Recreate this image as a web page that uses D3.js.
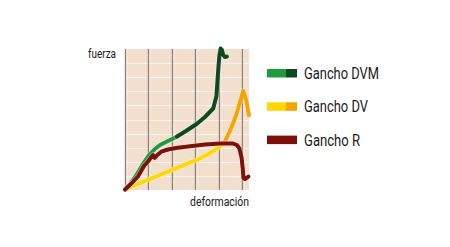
<!DOCTYPE html>
<html>
<head>
<meta charset="utf-8">
<script src="https://cdn.jsdelivr.net/npm/d3@7"></script>
<style>
  body { margin: 0; background: #fff; }
  text { font-family: "Roboto", "Liberation Sans", sans-serif; fill: #1a1a1a; }
</style>
</head>
<body>
<div id="chart"></div>
<script>
// values (x in grid columns, y in grid rows)
var dvmLight = [[0, 0], [0.255, 0.5], [0.511, 1.135], [0.766, 1.844], [1.034, 2.482], [1.277, 2.908], [1.489, 3.191], [1.83, 3.475], [2.2, 3.78]];
var dvmDark = [[2.2, 3.78], [2.596, 4.184], [3.051, 4.681], [3.404, 5.177], [3.757, 5.78], [3.894, 6.667], [3.97, 8.511], [4.021, 9.574], [4.072, 10.03], [4.128, 9.93], [4.183, 9.574], [4.255, 9.433], [4.34, 9.468]];
var dvYellow = [[0, 0], [0.553, 0.426], [1.119, 0.83], [1.83, 1.298], [2.681, 1.894], [3.051, 2.128], [3.477, 2.482], [3.83, 2.837], [4.213, 3.298]];
var dvOrange = [[4.213, 3.298], [4.468, 4.184], [4.723, 5.248], [5.034, 7.021], [5.17, 6.312], [5.28, 5.3]];
var ganchoR = [[0, 0.035], [0.255, 0.426], [0.553, 0.957], [0.809, 1.702], [0.979, 2.021], [1.191, 2.482], [1.268, 2.284], [1.374, 2.482], [1.545, 2.716], [1.83, 2.872], [2.17, 2.979], [2.681, 3.085], [3.404, 3.227], [4.043, 3.298], [4.596, 3.298], [4.766, 3.191], [4.872, 2.943], [4.966, 2.27], [5.021, 1.418], [5.043, 0.851], [5.106, 0.78], [5.255, 0.957]];

var legendLabels = ["Gancho DVM", "Gancho DV", "Gancho R"];
var legendWidths = [75, 64, 56];
var legendColors = [["#1f9a3f", "#0e4a21"], ["#ffd800", "#f7a400"], ["#7e100c", "#7e100c"]];

var margin = { top: 49, left: 125 },
    width = 124,
    height = 141;

var svg = d3.select("#chart")
    .append("svg")
    .attr("width", 450)
    .attr("height", 247);

var g = svg.append("g")
    .attr("transform", "translate(" + margin.left + "," + margin.top + ")");

var x = d3.scaleLinear().domain([0, 5.28]).range([0, width]);
var y = d3.scaleLinear().domain([0, 10]).range([height, 0]);

// background
g.append("rect")
    .attr("width", width)
    .attr("height", height)
    .attr("fill", "#f2dfce");

// horizontal white lines
g.append("g")
    .selectAll("line")
    .data(d3.range(1, 10))
    .enter()
    .append("line")
    .attr("x1", 0)
    .attr("x2", width)
    .attr("y1", function(d) { return Math.round(y(d)) + 0.5; })
    .attr("y2", function(d) { return Math.round(y(d)) + 0.5; })
    .attr("stroke", "#fbf3ec")
    .attr("stroke-width", 1);

// vertical grid lines
var vg = g.append("g")
    .selectAll("g")
    .data(d3.range(0, 6))
    .enter()
    .append("g");
vg.append("line")
    .attr("x1", function(d) { return Math.round(x(d)) + 0.5; })
    .attr("x2", function(d) { return Math.round(x(d)) + 0.5; })
    .attr("y1", 0)
    .attr("y2", height)
    .attr("stroke", "#8f8175")
    .attr("stroke-width", 1.4);
vg.append("line")
    .attr("x1", function(d) { return Math.round(x(d)) + 1.9; })
    .attr("x2", function(d) { return Math.round(x(d)) + 1.9; })
    .attr("y1", 0)
    .attr("y2", height)
    .attr("stroke", "#fbf3ec")
    .attr("stroke-width", 0.8);

var line = d3.line()
    .x(function(d) { return x(d[0]); })
    .y(function(d) { return y(d[1]); });

function drawLine(data, color) {
    g.append("path")
        .datum(data)
        .attr("d", line)
        .attr("fill", "none")
        .attr("stroke", "#fff")
        .attr("stroke-opacity", 0.45)
        .attr("stroke-width", 5.4)
        .attr("stroke-linejoin", "round")
        .attr("stroke-linecap", "round");
    g.append("path")
        .datum(data)
        .attr("d", line)
        .attr("fill", "none")
        .attr("stroke", color)
        .attr("stroke-width", 4)
        .attr("stroke-linejoin", "round")
        .attr("stroke-linecap", "round");
}

drawLine(dvYellow, legendColors[1][0]);
drawLine(dvOrange, legendColors[1][1]);
drawLine(dvmLight, legendColors[0][0]);
drawLine(dvmDark, legendColors[0][1]);
drawLine(ganchoR, legendColors[2][0]);

// axis labels
svg.append("text")
    .attr("x", 88)
    .attr("y", 58)
    .attr("textLength", 28)
    .attr("lengthAdjust", "spacingAndGlyphs")
    .style("font-size", "12.5px")
    .text("fuerza");

svg.append("text")
    .attr("x", 190)
    .attr("y", 206)
    .attr("textLength", 59)
    .attr("lengthAdjust", "spacingAndGlyphs")
    .style("font-size", "12.5px")
    .text("deformación");

// legend
var legend = svg.append("g")
    .selectAll("g")
    .data(legendLabels)
    .enter()
    .append("g")
    .attr("transform", function(d, i) { return "translate(267," + (69 + i * 33.3) + ")"; });

legend.append("rect")
    .attr("width", 19)
    .attr("height", 8.5)
    .attr("fill", function(d, i) { return legendColors[i][0]; });
legend.append("rect")
    .attr("x", 19)
    .attr("width", 11)
    .attr("height", 8.5)
    .attr("fill", function(d, i) { return legendColors[i][1]; });
legend.append("text")
    .attr("x", 37)
    .attr("y", 10)
    .attr("textLength", function(d, i) { return legendWidths[i]; })
    .attr("lengthAdjust", "spacingAndGlyphs")
    .style("font-size", "16.5px")
    .text(function(d) { return d; });
</script>
</body>
</html>
